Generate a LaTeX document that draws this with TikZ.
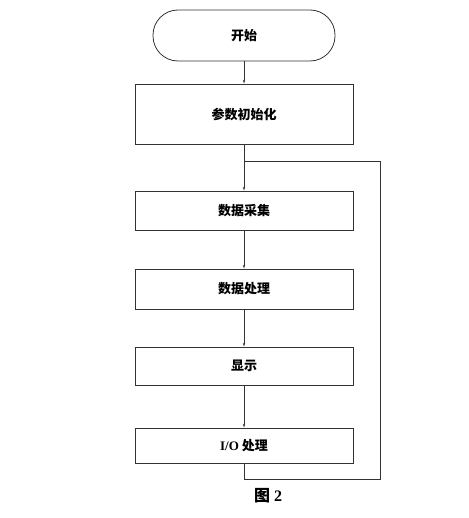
\documentclass[tikz,border=0pt]{standalone}
\usepackage{fontspec}
\setmainfont{Liberation Serif}
\newfontfamily\cjk{Noto Sans CJK SC}
\usepackage{tikz}
\usetikzlibrary{arrows.meta}

\tikzset{
 box/.style={draw=black!80,line width=.8pt,minimum width=218pt,inner sep=2pt},
 flow/.style={draw=black!80,line width=.7pt,-{Stealth[length=4pt,width=2.4pt]}}
}

\begin{document}
\begin{tikzpicture}[x=1pt,y=-1pt,font=\cjk\bfseries\fontsize{13}{15}\selectfont]
 \useasboundingbox (0,0) rectangle (468,518);
 \node[box,rounded corners=25pt,minimum width=182pt,minimum height=51pt] (start) at (244,35.5) {开始};
 \foreach \n/\y/\hh/\txt in {init/114/60/参数初始化,acq/210.5/39/数据采集,proc/289/40/数据处理,disp/366/38/显示,io/445.5/35/{{\rmfamily I/O} 处理}}
  \node[box,minimum height=\hh pt] (\n) at (244,\y) {\txt};
 \foreach \a/\b in {start/init,init/acq,acq/proc,proc/disp,disp/io}
  \draw[flow] (\a) -- (\b);
 % loop back
 \coordinate (join) at (244,161);
 \coordinate (corner) at (380,479);
 \draw[draw=black!80,line width=.8pt] (io.south) |- (corner) |- (join);
 \node[font=\fontsize{16}{18}\selectfont\bfseries] (cap) at (268,496) {{\cjk 图} 2};
\end{tikzpicture}
\end{document}
